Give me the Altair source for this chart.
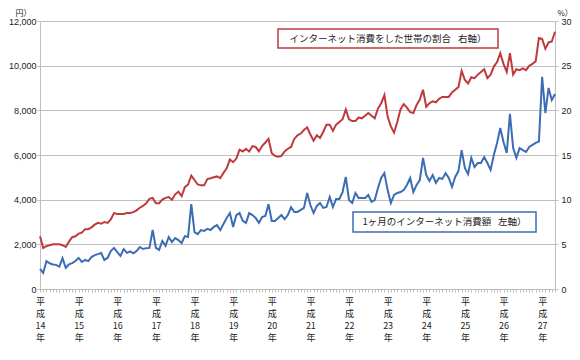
import altair as alt
import pandas as pd

# 平成 year labels (one per January)
years = ["14", "15", "16", "17", "18", "19", "20", "21", "22", "23", "24", "25", "26", "27"]

# 1ヶ月のインターネット消費額 (円, left axis), monthly from Jan 2002
yen = [
    900, 720, 1250, 1150, 1100, 1080, 1000, 1380, 950, 1100, 1160, 1250,
    1390, 1210, 1300, 1250, 1430, 1520, 1560, 1610, 1300, 1390, 1700, 1840,
    1650, 1480, 1790, 1620, 1680, 1600, 1700, 1880, 1790, 1830, 1840, 2650,
    1840, 1750, 2150, 1930, 2330, 2100, 2280, 2190, 2060, 2370, 2330, 3800,
    2550, 2460, 2640, 2600, 2690, 2640, 2780, 2860, 2640, 2910, 3180, 3400,
    2780, 3310, 3400, 3050, 2960, 3400, 3310, 3180, 2960, 3220, 3270, 3800,
    3050, 3050, 3180, 3310, 3130, 3310, 3670, 3450, 3450, 3540, 3630, 4300,
    3760, 3400, 3720, 3850, 3630, 3670, 4120, 3670, 4030, 4030, 4340, 5015,
    3985, 3850, 4300, 4075, 4075, 4075, 4210, 3900, 3985, 4520, 4970, 5190,
    4430, 3850, 4210, 4300, 4340, 4430, 4660, 4970, 4340, 4660, 4880, 5870,
    5100, 4840, 5100, 4750, 4970, 4930, 5190, 4970, 4570, 5015, 5280, 6220,
    5420, 5150, 5870, 5460, 5640, 5640, 5910, 5640, 5330, 6000, 6540, 7210,
    6580, 6090, 7840, 6310, 5870, 6310, 6220, 6135, 6360, 6450, 6540, 6600,
    9500, 7880, 9000, 8460, 8730,
]

# インターネット消費をした世帯の割合 (%, right axis)
pct = [
    5.9, 4.6, 4.8, 4.9, 5.0, 5.0, 5.0, 4.9, 4.7, 5.3, 5.8, 5.9,
    6.2, 6.3, 6.7, 6.7, 6.9, 7.2, 7.4, 7.3, 7.5, 7.4, 7.8, 8.5,
    8.4, 8.4, 8.4, 8.5, 8.5, 8.6, 8.8, 9.1, 9.3, 9.6, 10.1, 10.2,
    9.6, 9.6, 10.0, 10.2, 10.3, 10.0, 10.6, 10.9, 10.4, 11.4, 11.7, 12.7,
    12.2, 11.7, 11.6, 11.6, 12.3, 12.4, 12.5, 12.6, 12.4, 13.0, 13.5, 14.5,
    14.2, 14.6, 15.6, 15.4, 15.7, 15.4, 16.0, 15.9, 15.4, 16.0, 16.4, 16.8,
    15.2, 14.9, 14.8, 14.9, 15.4, 15.7, 15.9, 16.8, 17.2, 17.4, 17.8, 18.1,
    17.3, 16.6, 17.2, 16.9, 17.6, 18.4, 18.4, 17.7, 18.4, 18.7, 19.0, 20.1,
    19.0, 18.8, 18.8, 19.2, 19.1, 19.4, 19.7, 19.4, 19.1, 20.2, 20.8, 21.7,
    19.3, 18.2, 17.5, 18.7, 20.1, 20.7, 20.3, 19.8, 19.7, 20.6, 21.2, 22.3,
    20.4, 20.8, 21.0, 20.9, 21.3, 21.5, 21.5, 21.5, 22.0, 22.3, 22.6, 24.4,
    23.4, 23.0, 23.7, 23.6, 24.0, 24.3, 24.6, 23.6, 24.0, 24.9, 25.4, 26.4,
    25.2, 24.3, 26.4, 24.0, 24.6, 24.5, 24.7, 24.5, 25.0, 25.2, 25.5, 28.1,
    28.0, 26.9, 27.6, 27.7, 28.8,
]

label_red = "インターネット消費をした世帯の割合\u2002\u00a0右軸）"
label_blue = "1ヶ月のインターネット消費額\u2002\u00a0左軸）"

RED = "#BE3A3C"
BLUE = "#3C6DB4"
GRID = "#BFBFBF"
JP = "Noto Sans CJK JP"
NUM = "Liberation Sans"

df = pd.DataFrame({"m": list(range(len(yen))), "yen": yen, "pct": pct})
n = len(yen)

yrs_js = "[" + ",".join(f"'{y}'" for y in years) + "]"
label_expr = f"datum.value % 12 == 0 ? ['平', '成', {yrs_js}[datum.value / 12], '年'] : ''"

x_enc = alt.X(
    "m:Q",
    scale=alt.Scale(domain=[0, n - 1], nice=False, zero=False),
    axis=alt.Axis(
        values=list(range(n)), labelExpr=label_expr, tickSize=3, tickColor=GRID,
        domainColor=GRID, grid=False, labelFont=JP, labelFontSize=9,
        labelLineHeight=12, labelPadding=5, labelOverlap=False, labelAngle=0,
        labelBaseline="top", labelAlign="center", labelFlush=False,
        labelColor="#222222", title=None,
    ),
)

base = alt.Chart(df).encode(x=x_enc)

blue_line = base.mark_line(color=BLUE, strokeWidth=2).encode(
    y=alt.Y(
        "yen:Q",
        scale=alt.Scale(domain=[0, 12000], nice=False),
        axis=alt.Axis(
            values=list(range(0, 12001, 2000)), format=",d", grid=True,
            gridColor=GRID, tickSize=3, tickColor=GRID, domainColor=GRID,
            labelFont=NUM, labelFontSize=9, labelPadding=1, labelColor="#222222",
            title="円）", titleAngle=0, titleX=-25, titleY=-12, titleAlign="left",
            titleBaseline="top", titleFont=JP, titleFontSize=8,
            titleFontWeight="normal", titleColor="#222222",
        ),
    )
)

red_line = base.mark_line(color=RED, strokeWidth=2).encode(
    y=alt.Y(
        "pct:Q",
        scale=alt.Scale(domain=[0, 30], nice=False),
        axis=alt.Axis(
            orient="right", values=list(range(0, 31, 5)), grid=False,
            tickSize=3, tickColor=GRID, domainColor=GRID,
            labelFont=NUM, labelFontSize=9, labelPadding=3, labelColor="#222222",
            title="%）", titleAngle=0, titleX=2, titleY=-12, titleAlign="left",
            titleBaseline="top", titleFont=JP, titleFontSize=8,
            titleFontWeight="normal", titleColor="#222222",
        ),
    )
)

ann = pd.DataFrame({"a": [0]})
red_box = alt.Chart(ann).mark_rect(fill="white", stroke=RED, strokeWidth=1.5).encode(
    x=alt.value(238), x2=alt.value(458), y=alt.value(8), y2=alt.value(27)
)
red_text = alt.Chart(ann).mark_text(
    font=JP, fontSize=9.5, align="center", baseline="middle", color="#222222"
).encode(x=alt.value(348), y=alt.value(17.5), text=alt.value(label_red))

blue_box = alt.Chart(ann).mark_rect(fill="white", stroke=BLUE, strokeWidth=1.5).encode(
    x=alt.value(313), x2=alt.value(496), y=alt.value(191), y2=alt.value(211)
)
blue_text = alt.Chart(ann).mark_text(
    font=JP, fontSize=9.5, align="center", baseline="middle", color="#222222"
).encode(x=alt.value(404.5), y=alt.value(201), text=alt.value(label_blue))

chart = (
    alt.layer(blue_line, red_line, red_box, red_text, blue_box, blue_text)
    .resolve_scale(y="independent")
    .properties(
        width=515, height=268,
        autosize=alt.AutoSizeParams(type="none"),
        padding={"left": 32, "top": 13, "right": 17, "bottom": 62},
        background="white",
    )
    .configure_view(stroke=None)
)

chart.save("out.html", embed_options={"renderer": "svg", "actions": False})
